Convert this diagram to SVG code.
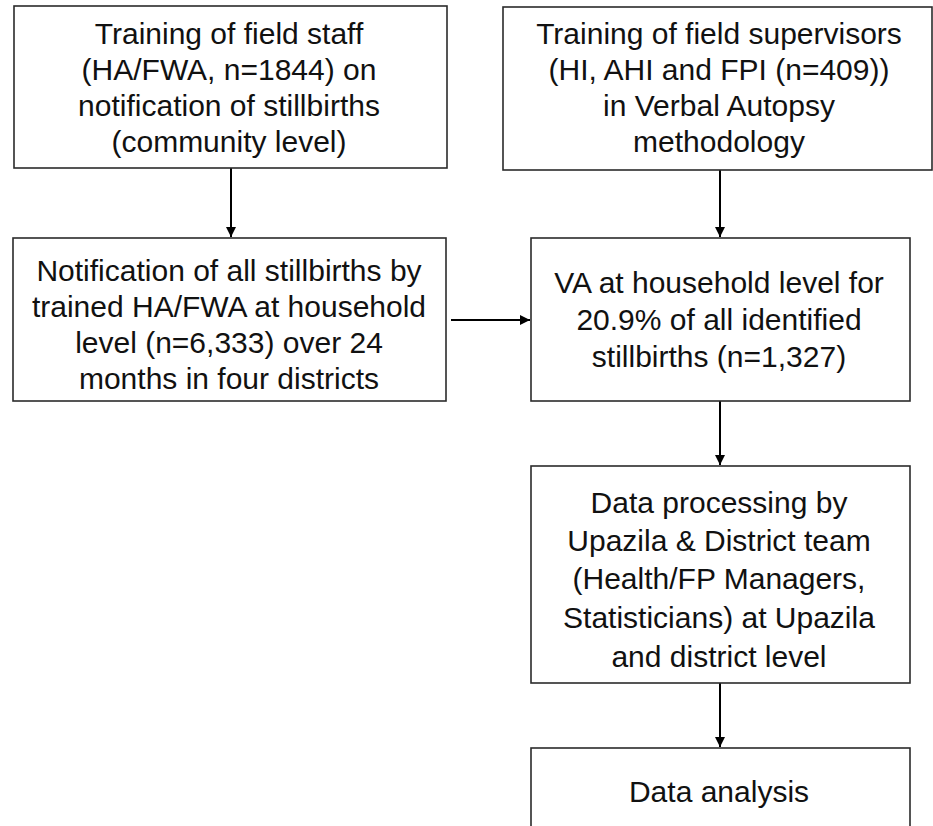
<svg xmlns="http://www.w3.org/2000/svg" width="933" height="826" viewBox="0 0 933 826">
<style>
.box{fill:#fff;stroke:#2b2b2b;stroke-width:1.6}
.t{font-family:"Liberation Sans",Arial,sans-serif;font-size:30px;fill:#111;text-anchor:middle}
.c{stroke:#000;stroke-width:2;fill:none;marker-end:url(#ah)}
</style>
<defs>
<marker id="ah" viewBox="0 0 10 10" refX="10" refY="5" markerWidth="5" markerHeight="5" markerUnits="strokeWidth" orient="auto">
<path d="M0,0 L10,5 L0,10 z" fill="#000"/>
</marker>
</defs>
<rect width="933" height="826" fill="#fff"/>
<g id="connectors">
<line class="c" x1="231" y1="168" x2="231" y2="237"/>
<line class="c" x1="720" y1="170" x2="720" y2="237"/>
<line class="c" x1="451" y1="320" x2="530" y2="320"/>
<line class="c" x1="720" y1="401" x2="720" y2="465"/>
<line class="c" x1="720" y1="683" x2="720" y2="747"/>
</g>
<g id="n1">
<rect class="box" x="14" y="6" width="433" height="162"/>
<text class="t" x="229" y="44">Training of field staff</text>
<text class="t" x="229" y="80">(HA/FWA, n=1844) on</text>
<text class="t" x="229" y="116">notification of stillbirths</text>
<text class="t" x="229" y="152">(community level)</text>
</g>
<g id="n2">
<rect class="box" x="503" y="7" width="429" height="163"/>
<text class="t" x="719" y="44">Training of field supervisors</text>
<text class="t" x="719" y="80">(HI, AHI and FPI (n=409))</text>
<text class="t" x="719" y="116">in Verbal Autopsy</text>
<text class="t" x="719" y="152">methodology</text>
</g>
<g id="n3">
<rect class="box" x="13" y="238" width="433" height="163"/>
<text class="t" x="229" y="281">Notification of all stillbirths by</text>
<text class="t" x="229" y="317">trained HA/FWA at household</text>
<text class="t" x="229" y="353">level (n=6,333) over 24</text>
<text class="t" x="229" y="389">months in four districts</text>
</g>
<g id="n4">
<rect class="box" x="531" y="238" width="379" height="163"/>
<text class="t" x="719" y="293">VA at household level for</text>
<text class="t" x="719" y="330">20.9% of all identified</text>
<text class="t" x="719" y="367">stillbirths (n=1,327)</text>
</g>
<g id="n5">
<rect class="box" x="531" y="466" width="379" height="217"/>
<text class="t" x="719" y="513">Data processing by</text>
<text class="t" x="719" y="551">Upazila &amp; District team</text>
<text class="t" x="719" y="589">(Health/FP Managers,</text>
<text class="t" x="719" y="628">Statisticians) at Upazila</text>
<text class="t" x="719" y="667">and district level</text>
</g>
<g id="n6">
<rect class="box" x="531" y="748" width="379" height="120"/>
<text class="t" x="719" y="802">Data analysis</text>
</g>
</svg>
